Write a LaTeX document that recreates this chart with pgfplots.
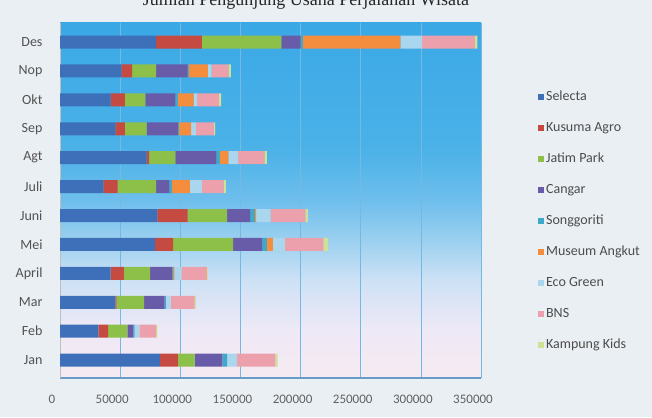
\documentclass[border=0pt]{standalone}
\usepackage{pgfplots}
\pgfplotsset{compat=1.18}
\usepackage{pgfplotstable}
\usepackage{fontspec}
\setmainfont{Carlito}
\newfontfamily\titlefont{Liberation Serif}

\definecolor{cSelecta}{RGB}{62,112,185}
\definecolor{cKusuma}{RGB}{196,74,66}
\definecolor{cJatim}{RGB}{140,192,72}
\definecolor{cCangar}{RGB}{104,92,168}
\definecolor{cSong}{RGB}{64,168,200}
\definecolor{cMuseum}{RGB}{244,142,62}
\definecolor{cEco}{RGB}{170,214,238}
\definecolor{cBNS}{RGB}{236,160,172}
\definecolor{cKampung}{RGB}{206,226,150}
\definecolor{pagebg}{RGB}{234,239,243}
\definecolor{gridc}{RGB}{115,185,228}
\definecolor{floorc}{RGB}{105,155,200}

\definecolor{bg0}{RGB}{246,234,241}
\definecolor{bg1}{RGB}{238,233,246}
\definecolor{bg2}{RGB}{205,225,245}
\definecolor{bg3}{RGB}{160,210,240}
\definecolor{bg4}{RGB}{110,190,236}
\definecolor{bg5}{RGB}{76,178,232}
\definecolor{bg6}{RGB}{58,168,230}
\pgfdeclareverticalshading{plotbg}{100bp}{%
  color(0bp)=(bg0); color(25bp)=(bg0); color(31.8bp)=(bg1);
  color(38.8bp)=(bg2); color(43.9bp)=(bg3); color(50bp)=(bg4);
  color(57bp)=(bg5); color(75bp)=(bg6); color(100bp)=(bg6)}

% visitors per month and destination (Jan = 0 ... Des = 11)
\pgfplotstableread{
m  Selecta Kusuma Jatim Cangar Song  Museum Eco   BNS   Kampung
0  83000   15000  14000 23000  4000  0      8000  32000 2000
1  32000   8000   16000 5000   1000  0      4000  14000 1000
2  46000   1000   23000 17000  1000  0      4000  20000 1000
3  42000   11000  22000 18000  1000  1000   6000  21000 1000
4  79000   15000  50000 24000  4000  5000   10000 32000 4000
5  81000   25000  33000 19000  4000  1000   12000 29000 2000
6  36000   12000  32000 11000  2000  15000  10000 18000 2000
7  72000   2000   22000 34000  3000  7000   8000  22000 2000
8  46000   8000   18000 26000  1000  10000  4000  15000 1000
9  42000   12000  17000 25000  2000  13000  3000  18000 2000
10 51000   9000   20000 26000  1000  16000  3000  14000 2000
11 80000   38000  66000 16000  2000  81000  18000 44000 2000
}\visits

\begin{document}
\begin{tikzpicture}[x=1pt,y=1pt]
\useasboundingbox (0,0) rectangle (652,417);
\fill[pagebg] (0,0) rectangle (652,417);
\node[anchor=base, font=\titlefont\fontsize{18}{20}\selectfont, text=black!85]
  at (306,411) {Jumlah Pengunjung Usaha Perjalanan Wisata};
\begin{axis}[
  at={(60pt,39pt)}, anchor=south west,
  scale only axis, width=421pt, height=355pt,
  xbar stacked, bar width=13pt,
  xmin=0, xmax=350000,
  ymin=-0.62, ymax=11.66,
  ytick={0,...,11},
  yticklabels={Jan,Feb,Mar,April,Mei,Juni,Juli,Agt,Sep,Okt,Nop,Des},
  xtick={0,50000,...,350000},
  scaled x ticks=false,
  /pgf/number format/fixed,
  /pgf/number format/1000 sep={},
  /pgf/number format/assume math mode=true,
  xticklabel style={font=\fontsize{13}{14}\selectfont, text=black!62,
    yshift=-14pt, xshift=-8pt},
  yticklabel style={font=\fontsize{14}{15}\selectfont, text=black!68, xshift=-14pt},
  major tick length=0pt,
  xmajorgrids,
  grid style={gridc, line width=0.6pt},
  axis background/.style={shading=plotbg},
  axis x line*=bottom, axis y line*=left,
  x axis line style={floorc, line width=2.5pt},
  y axis line style={black!25, line width=0.6pt},
  legend cell align=left,
  legend image code/.code={\fill[#1] (0pt,-3pt) rectangle (6pt,3pt);},
  legend style={at={(1.128,0.823)}, anchor=north west, draw=none, fill=none,
    font=\fontsize{14}{15}\selectfont, text=black!70, row sep=14pt,
    nodes={text height=10pt, text depth=3pt, inner sep=2pt}},
  every axis plot/.append style={draw=none},
]
\addplot[fill=cSelecta] table[x=Selecta, y=m] {\visits};
\addplot[fill=cKusuma]  table[x=Kusuma,  y=m] {\visits};
\addplot[fill=cJatim]   table[x=Jatim,   y=m] {\visits};
\addplot[fill=cCangar]  table[x=Cangar,  y=m] {\visits};
\addplot[fill=cSong]    table[x=Song,    y=m] {\visits};
\addplot[fill=cMuseum]  table[x=Museum,  y=m] {\visits};
\addplot[fill=cEco]     table[x=Eco,     y=m] {\visits};
\addplot[fill=cBNS]     table[x=BNS,     y=m] {\visits};
\addplot[fill=cKampung] table[x=Kampung, y=m] {\visits};
\legend{Selecta,Kusuma Agro,Jatim Park,Cangar,Songgoriti,Museum Angkut,Eco Green,BNS,Kampung Kids}
\end{axis}
\end{tikzpicture}
\end{document}
